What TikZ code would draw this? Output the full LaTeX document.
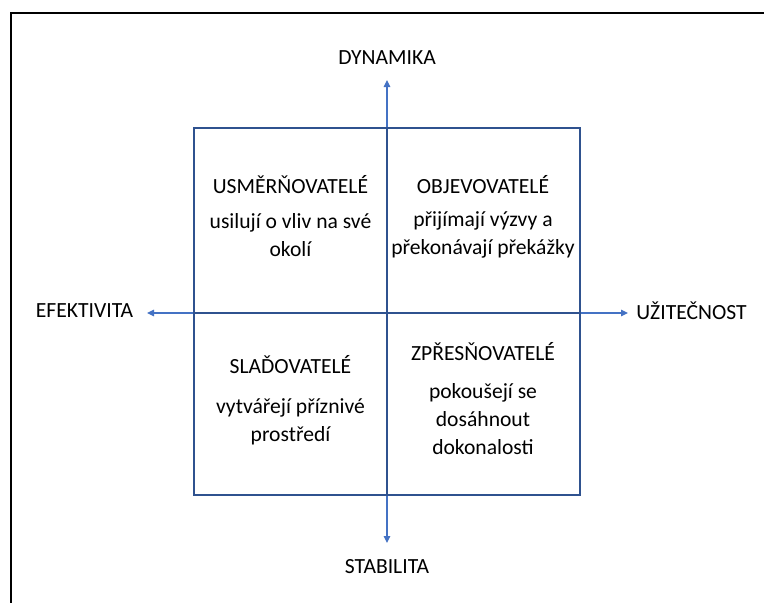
\documentclass[tikz,border=0pt]{standalone}
\usepackage{fontspec}
\setmainfont{Carlito}
\usetikzlibrary{arrows.meta,positioning}
\definecolor{mrizka}{HTML}{2F528F}
\definecolor{osa}{HTML}{4472C4}

\begin{document}
\begin{tikzpicture}[x=1pt,y=-1pt,>={Triangle[length=7pt,width=6.5pt]},
  popis/.style={font=\fontsize{21.6}{28}\selectfont,inner sep=0pt},
  nadpis/.style={popis},
  text1/.style={popis,align=center}]
\useasboundingbox (0,0) rectangle (764,603);
\draw[line width=2.6pt] (11,603)--(11,13)--(764,13);
% osy
\coordinate (c) at (387,313);
\coordinate (nahore) at (387,80);
\coordinate (dole) at (387,543);
\coordinate (vlevo) at (147,313);
\coordinate (vpravo) at (628,313);
\draw[osa,line width=1.1pt,->] (c)--(nahore);
\draw[osa,line width=1.1pt,->] (c)--(dole);
\draw[osa,line width=1.1pt,->] (c)--(vlevo);
\draw[osa,line width=1.1pt,->] (c)--(vpravo);
\node[popis] (dyn) at (387,58){DYNAMIKA};
\node[popis] (stab) at (387,567){STABILITA};
\node[popis] (efek) at (84.5,311){EFEKTIVITA};
\node[popis] (uzit) at (691.5,311){UŽITEČNOST};
% ctverec
\draw[mrizka,line width=1.8pt] (194,128) rectangle (580,495);
\draw[mrizka,line width=1.8pt] (387,128)--(387,495) (194,313)--(580,313);
% kvadranty
\node[nadpis] (usm) at (290.5,185){USMĚRŇOVATELÉ};
\node[text1] (usm2) at (290.5,235){usilují o vliv na své\\okolí};
\node[nadpis] (obj) at (483,185){OBJEVOVATELÉ};
\node[text1] (obj2) at (483,235){přijímají výzvy a\\překonávají překážky};
\node[nadpis] (sla) at (290.5,365){SLAĎOVATELÉ};
\node[text1] (sla2) at (290.5,421.5){vytvářejí příznivé\\prostředí};
\node[nadpis] (zpr) at (483,352){ZPŘESŇOVATELÉ};
\node[text1] (zpr2) at (483,419.5){pokoušejí se\\dosáhnout\\dokonalosti};
\end{tikzpicture}
\end{document}
